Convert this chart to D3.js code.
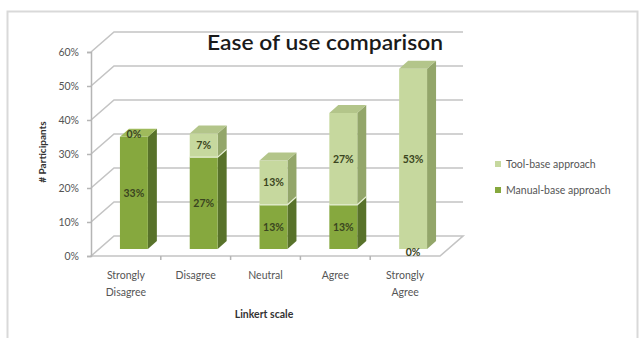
<!DOCTYPE html>
<html>
<head>
<meta charset="utf-8">
<script src="https://cdn.jsdelivr.net/npm/d3@7"></script>
<style>
  body { margin: 0; background: #fff; }
  text { font-family: Lato, "Open Sans", sans-serif; }
</style>
</head>
<body>
<div id="chart"></div>
<script>
const categories = ['Strongly Disagree', 'Disagree', 'Neutral', 'Agree', 'Strongly Agree'];
const seriesKeys = ['manual', 'tool'];
const seriesNames = { manual: 'Manual-base approach', tool: 'Tool-base approach' };
const manualValues = [0.33, 0.27, 0.13, 0.13, 0];
const toolValues = [0, 0.07, 0.13, 0.27, 0.53];
const yTicks = [0, 0.1, 0.2, 0.3, 0.4, 0.5, 0.6];

const width = 641;
const height = 338;

// face colours per series: front, side, top
const colors = {
  manual: { front: '#86a83e', side: '#58722a', top: '#9fba5c' },
  tool: { front: '#c6d89e', side: '#93a66a', top: '#b3c58a' },
};

// oblique offsets for the back wall and for the bars
const wall = { dx: 23, dy: -20 };
const barShift = { dx: 8, dy: -7 };
const barDepth = { dx: 9, dy: -8 };

const rows = categories.map((c, i) => ({ category: c, manual: manualValues[i], tool: toolValues[i] }));
const stacked = d3.stack().keys(seriesKeys)(rows);

const x = d3.scaleBand().domain(categories).range([91, 440]);
const y = d3.scaleLinear().domain([0, 0.6]).range([256, 52]);
const barW = x.bandwidth() * 0.4;

const svg = d3.select('#chart')
  .append('svg')
    .attr('width', width)
    .attr('height', height);

svg.append('rect')
  .attr('x', 7.5)
  .attr('y', 11.5)
  .attr('width', 630)
  .attr('height', 340)
  .attr('fill', '#fff')
  .attr('stroke', '#d9d9d9')
  .attr('stroke-width', 2);

const [x0, x1] = x.range();

// back wall gridlines
svg.append('g')
  .selectAll('path')
  .data(yTicks.filter(t => t > 0))
  .enter()
  .append('path')
    .attr('d', t => `M${x0},${y(t)} L${x0 + wall.dx},${y(t) + wall.dy} L${x1 + wall.dx},${y(t) + wall.dy}`)
    .attr('fill', 'none')
    .attr('stroke', '#c4c4c4')
    .attr('stroke-width', 1.6);

// floor
svg.append('path')
  .attr('d', `M${x0},${y(0)} L${x0 + wall.dx},${y(0) + wall.dy} L${x1 + wall.dx},${y(0) + wall.dy} L${x1},${y(0)} Z`)
  .attr('fill', '#fff')
  .attr('stroke', '#c4c4c4')
  .attr('stroke-width', 1.6);

// y axis
const yAxis = svg.append('g')
  .attr('transform', `translate(${x0},0)`)
  .call(d3.axisLeft(y).tickValues(yTicks).tickFormat(d3.format('.0%')).tickSize(4).tickPadding(8));
yAxis.select('.domain').attr('stroke', '#b5b5b5').attr('stroke-width', 1.5);
yAxis.selectAll('.tick line').attr('stroke', '#b5b5b5').attr('stroke-width', 1.5);
yAxis.selectAll('.tick text')
  .attr('fill', '#555')
  .style('font-size', '10.5px')
  .style('font-family', 'Lato, sans-serif');

// x axis category ticks
svg.append('g')
  .selectAll('line')
  .data(categories.slice(1))
  .enter()
  .append('line')
    .attr('x1', c => x(c))
    .attr('x2', c => x(c))
    .attr('y1', y(0))
    .attr('y2', y(0) + 4)
    .attr('stroke', '#b5b5b5')
    .attr('stroke-width', 1.5);

// bars
const barX = c => x(c) + (x.bandwidth() - barW) / 2 + barShift.dx;
const segY = v => y(v) + barShift.dy;

const layers = svg.append('g')
  .selectAll('g')
  .data(stacked)
  .enter()
  .append('g');

const segs = layers.selectAll('g')
  .data(layer => layer.map(d => ({ key: layer.key, lo: d[0], hi: d[1], category: d.data.category })))
  .enter()
  .append('g');

segs.append('path')
  .attr('d', d => {
    const bx = barX(d.category) + barW;
    const top = segY(d.hi);
    const bot = segY(d.lo);
    return `M${bx},${bot} L${bx + barDepth.dx},${bot + barDepth.dy} L${bx + barDepth.dx},${top + barDepth.dy} L${bx},${top} Z`;
  })
  .attr('fill', d => colors[d.key].side);

segs.append('rect')
  .attr('x', d => barX(d.category))
  .attr('y', d => segY(d.hi))
  .attr('width', barW)
  .attr('height', d => segY(d.lo) - segY(d.hi))
  .attr('fill', d => colors[d.key].front);

// top caps on the highest non-empty segment of each bar
const totals = rows.map(r => r.manual + r.tool);
svg.append('g')
  .selectAll('path')
  .data(rows)
  .enter()
  .append('path')
    .attr('d', (r, i) => {
      const bx = barX(r.category);
      const top = segY(totals[i]);
      return `M${bx},${top} L${bx + barDepth.dx},${top + barDepth.dy} L${bx + barW + barDepth.dx},${top + barDepth.dy} L${bx + barW},${top} Z`;
    })
    .attr('fill', r => (r.tool > 0 ? colors.tool.top : colors.manual.top));

// thin seam between stacked segments
svg.append('g')
  .selectAll('path')
  .data(rows.filter(r => r.manual > 0 && r.tool > 0))
  .enter()
  .append('path')
    .attr('d', r => {
      const bx = barX(r.category);
      const yy = segY(r.manual);
      return `M${bx},${yy} L${bx + barW},${yy} L${bx + barW + barDepth.dx},${yy + barDepth.dy}`;
    })
    .attr('fill', 'none')
    .attr('stroke', '#e4edd0')
    .attr('stroke-width', 1.2);

// value labels, drawn last so the zero labels stay visible
svg.append('g')
  .selectAll('text')
  .data(stacked.flatMap(layer => layer.map(d => ({ lo: d[0], hi: d[1], category: d.data.category }))))
  .enter()
  .append('text')
    .attr('x', d => barX(d.category) + barW / 2)
    .attr('y', d => (segY(d.lo) + segY(d.hi)) / 2 + (d.hi === d.lo && d.lo > 0 ? -2 : 0) + (d.hi === d.lo && d.lo === 0 ? 3 : 0))
    .attr('dy', '0.35em')
    .attr('text-anchor', 'middle')
    .attr('fill', '#3a4520')
    .style('font-size', '10.5px')
    .style('font-weight', 'bold')
    .text(d => d3.format('.0%')(d.hi - d.lo));

// category labels
const catLabels = svg.append('g')
  .selectAll('text')
  .data(categories)
  .enter()
  .append('text')
    .attr('x', c => x(c) + x.bandwidth() / 2)
    .attr('y', 279)
    .attr('text-anchor', 'middle')
    .attr('fill', '#555')
    .style('font-size', '10.5px');
catLabels.selectAll('tspan')
  .data(c => (c.startsWith('Strongly') ? c.split(' ') : [c]))
  .enter()
  .append('tspan')
    .attr('x', function () { return d3.select(this.parentNode).attr('x'); })
    .attr('dy', (t, i) => (i === 0 ? 0 : 17))
    .text(t => t);

// axis titles
svg.append('text')
  .attr('x', 264)
  .attr('y', 318)
  .attr('text-anchor', 'middle')
  .attr('fill', '#333')
  .style('font-size', '10.5px')
  .style('font-weight', 'bold')
  .text('Linkert scale');

svg.append('text')
  .attr('transform', 'translate(46,152) rotate(-90)')
  .attr('text-anchor', 'middle')
  .attr('fill', '#333')
  .style('font-size', '10px')
  .style('font-weight', 'bold')
  .text('# Participants');

// chart title
svg.append('text')
  .attr('x', 207)
  .attr('y', 50)
  .attr('textLength', 236)
  .attr('lengthAdjust', 'spacingAndGlyphs')
  .attr('fill', '#1a1a1a')
  .style('font-size', '21px')
  .style('font-weight', '600')
  .text('Ease of use comparison');

// legend, tool first as in the original
const legend = svg.append('g')
  .selectAll('g')
  .data(['tool', 'manual'])
  .enter()
  .append('g')
    .attr('transform', (k, i) => `translate(495, ${164 + i * 26})`);
legend.append('rect')
  .attr('x', 0)
  .attr('y', -3)
  .attr('width', 6)
  .attr('height', 6)
  .attr('fill', k => colors[k].front);
legend.append('text')
  .attr('x', 11)
  .attr('y', 0)
  .attr('dy', '0.35em')
  .attr('fill', '#555')
  .style('font-size', '10.5px')
  .text(k => seriesNames[k]);
</script>
</body>
</html>
